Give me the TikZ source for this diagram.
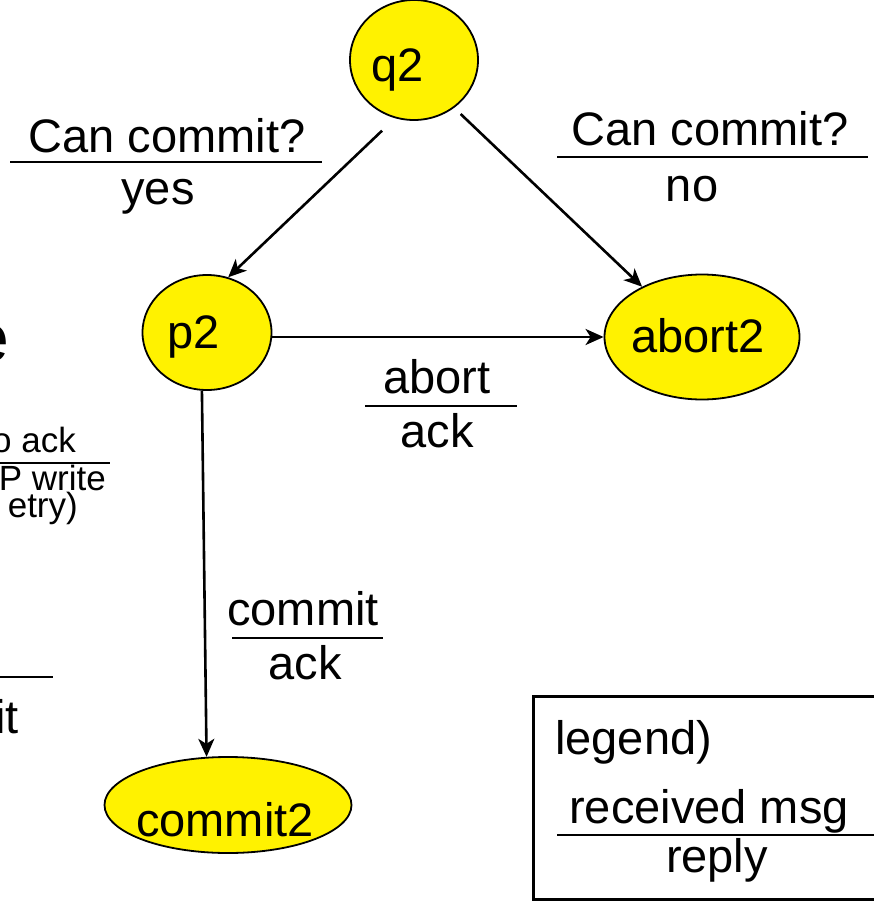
\documentclass[tikz,border=0pt]{standalone}
\usepackage{fontspec}
\setmainfont{Liberation Sans}
\usetikzlibrary{shapes.geometric,arrows.meta}
\begin{document}
\begin{tikzpicture}[x=1pt,y=-1pt,
  state/.style={ellipse,draw=black,line width=1.8pt,fill=yellow,inner sep=0pt},
  lbl/.style={font=\fontsize{47}{52}\selectfont,inner sep=0pt,anchor=base},
  smalltxt/.style={font=\fontsize{35}{38}\selectfont,inner sep=0pt,anchor=base east},
  arr/.style={line width=2.6pt,-{Stealth[length=18pt,width=16pt,inset=5pt]}},
  bar/.style={line width=1.8pt}]
\useasboundingbox (0,0) rectangle (874,902);
\clip (0,0) rectangle (874,902);

% states
\node[state,minimum width=128pt,minimum height=120pt] (q2) at (414,60) {};
\node[state,minimum width=129pt,minimum height=115pt] (p2) at (207,332.5) {};
\node[state,minimum width=195pt,minimum height=125pt] (abort2) at (702,337) {};
\node[state,minimum width=247pt,minimum height=96pt] (commit2) at (228,805) {};

\node[lbl] (q2t) at (398,81) {q2};
\node[lbl] (p2t) at (194,348) {p2};
\node[lbl] (abort2t) at (698,352) {abort2};
\node[lbl] (commit2t) at (225,836) {commit2};

% transitions
\draw[arr,shorten <=18pt] (q2.252) -- (p2.69);
\draw[arr,shorten <=9pt] (q2.310) -- (abort2.140);
\draw[arr] (p2.east |- abort2.west) -- (abort2.west);
\draw[arr] (p2.265) -- (commit2.114.6);

% transition labels: received message over reply
\node[lbl] (cy1) at (167,152) {Can commit?};
\draw[bar] (10,162) -- (322,162);
\node[lbl] (cy2) at (158,204) {yes};

\node[lbl] (cn1) at (710,145) {Can commit?};
\draw[bar] (557,157) -- (868,157);
\node[lbl] (cn2) at (692,201) {no};

\node[lbl] (ab1) at (437,393) {abort};
\draw[bar] (365,406) -- (517,406);
\node[lbl] (ab2) at (437,447) {ack};

\node[lbl] (cm1) at (303,625) {commit};
\draw[bar] (232,638) -- (383,638);
\node[lbl] (cm2) at (305,679) {ack};

% legend
\node[draw=black,line width=2.8pt,minimum width=352pt,minimum height=203pt,
      inner sep=0pt,anchor=north west] (legendbox) at (532,695) {};
\node[lbl,anchor=base west] (lg) at (555,754) {legend)};
\node[lbl] (lg1) at (709,823) {received msg};
\draw[bar] (557,835) -- (880,835);
\node[lbl] (lg2) at (717,872) {reply};

% text running in from the left margin
\node[font=\fontsize{68}{70}\selectfont,inner sep=0pt,anchor=base east] (le) at (10,361) {e};
\node[smalltxt] (lf1) at (76,452) {o ack};
\draw[bar] (0,463) -- (110,463);
\node[smalltxt] (lf2) at (106,490) {P write};
\node[smalltxt] (lf3) at (78,517) {etry)};
\draw[bar] (0,677) -- (53,677);
\node[lbl,anchor=base east] (lit) at (19,733) {it};
\end{tikzpicture}
\end{document}
